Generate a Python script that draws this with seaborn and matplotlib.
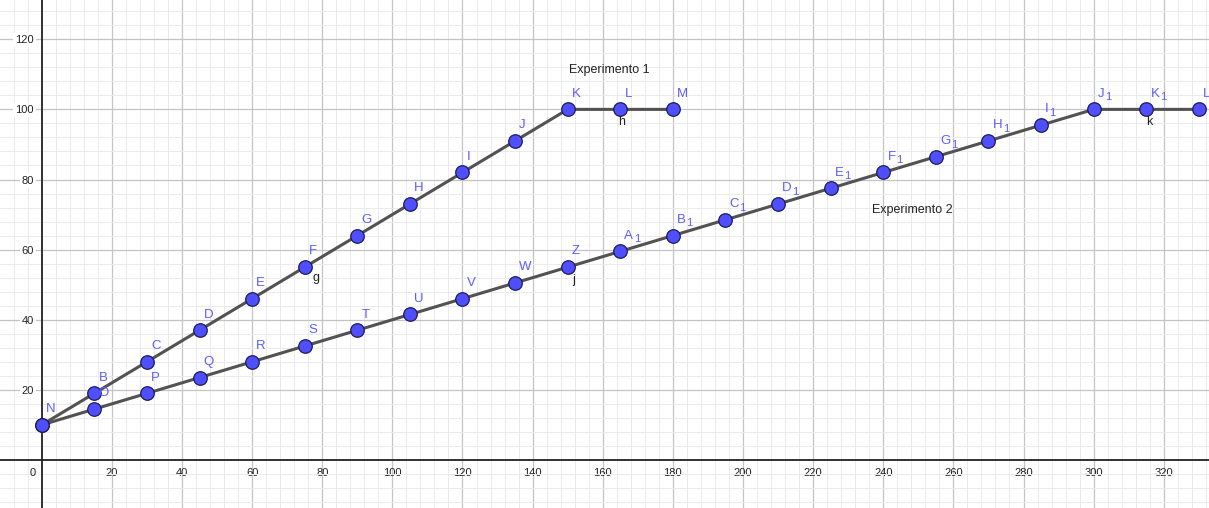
import numpy as np
import pandas as pd
import seaborn as sns
import matplotlib.pyplot as plt
from matplotlib.ticker import MultipleLocator

sns.set_style("white")
plt.rcParams['font.family'] = ['Liberation Sans', 'DejaVu Sans']

# Experimento 1
exp1_x = [0, 15, 30, 45, 60, 75, 90, 105, 120, 135, 150, 165, 180]
exp1_y = [10, 19, 28, 37, 46, 55, 64, 73, 82, 91, 100, 100, 100]
exp1_names = ['N', 'B', 'C', 'D', 'E', 'F', 'G', 'H', 'I', 'J', 'K', 'L', 'M']
exp1_subs = [''] * 13

# Experimento 2 (N is shared with Experimento 1)
exp2_x = [0, 15, 30, 45, 60, 75, 90, 105, 120, 135, 150, 165, 180, 195, 210,
          225, 240, 255, 270, 285, 300, 315, 330]
exp2_y = [10, 14.5, 19, 23.5, 28, 32.5, 37, 41.5, 46, 50.5, 55, 59.5, 64, 68.5,
          73, 77.5, 82, 86.5, 91, 95.5, 100, 100, 100]
exp2_names = ['', 'O', 'P', 'Q', 'R', 'S', 'T', 'U', 'V', 'W', 'Z',
              'A', 'B', 'C', 'D', 'E', 'F', 'G', 'H', 'I', 'J', 'K', 'L']
exp2_subs = [''] * 11 + ['1'] * 12

# segment labels
seg_names = ['g', 'h', 'j', 'k']
seg_x = [78.2, 165.5, 151.6, 315.8]
seg_y = [51.9, 96.4, 51.3, 96.4]

xticks = list(range(20, 340, 20))
yticks = list(range(20, 140, 20))

df = pd.concat([
    pd.DataFrame({'x': exp1_x, 'y': exp1_y, 'name': exp1_names, 'sub': exp1_subs,
                  'serie': 'Experimento 1'}),
    pd.DataFrame({'x': exp2_x, 'y': exp2_y, 'name': exp2_names, 'sub': exp2_subs,
                  'serie': 'Experimento 2'}),
], ignore_index=True)

fig = plt.figure(figsize=(12.09, 5.08), dpi=100)
ax = fig.add_axes([0, 0, 1, 1])

sns.lineplot(data=df, x='x', y='y', hue='serie', palette=['#525252', '#525252'],
             sort=False, legend=False, linewidth=2.2, ax=ax, zorder=2)
sns.scatterplot(data=df, x='x', y='y', color='#4f4fff', edgecolor='#1c1c55',
                s=95, linewidth=0.9, legend=False, ax=ax, zorder=3)

# point names (with GeoGebra-like subscripts)
lab_color = '#5c5cff'
for _, r in df.iterrows():
    if not r['name']:
        continue
    t = ax.annotate(r['name'], xy=(r['x'], r['y']), xytext=(3, 7),
                    textcoords='offset points', ha='left', va='bottom',
                    color=lab_color, fontsize=9.5, zorder=4)
    if r['sub']:
        ax.annotate(r['sub'], xy=(1, 0.2), xycoords=t, xytext=(0.3, 0),
                    textcoords='offset points', ha='left', va='center',
                    color=lab_color, fontsize=8, zorder=4)

for n, sx, sy in zip(seg_names, seg_x, seg_y):
    ax.text(sx, sy, n, ha='center', va='center', fontsize=9, color='#222222', zorder=4)

ax.text(150.5, 110.4, 'Experimento 1', fontsize=9, color='#222222', va='baseline')
ax.text(236.8, 70.4, 'Experimento 2', fontsize=9, color='#222222', va='baseline')

# axes through the origin, GeoGebra style
ax.set_xlim(-11.9, 332.9)
ax.set_ylim(-13.7, 131.2)
for s in ['top', 'right']:
    ax.spines[s].set_visible(False)
ax.spines['left'].set_position(('data', 0))
ax.spines['bottom'].set_position(('data', 0))
for s in ['left', 'bottom']:
    ax.spines[s].set_color('#222222')
    ax.spines[s].set_linewidth(1.3)
    ax.spines[s].set_zorder(1.5)

ax.set_xticks(xticks)
ax.set_yticks(yticks)
ax.xaxis.set_minor_locator(MultipleLocator(4))
ax.yaxis.set_minor_locator(MultipleLocator(4))
ax.tick_params(which='both', length=0)
ax.tick_params(axis='x', pad=5.5, labelsize=8, labelcolor='#222222')
ax.tick_params(axis='y', pad=5.5, labelsize=8, labelcolor='#222222')
for lab in ax.get_yticklabels():
    lab.set_bbox(dict(facecolor='white', edgecolor='none', pad=1.5))
ax.annotate('0', xy=(0, 0), xytext=(-4, -5.5), textcoords='offset points',
            ha='right', va='top', fontsize=8, color='#222222')

ax.set_axisbelow(True)
ax.grid(which='major', color='#c4c4c4', linewidth=0.9)
ax.grid(which='minor', color='#ebebeb', linewidth=0.7)
ax.set_xlabel('')
ax.set_ylabel('')

fig.savefig('out.png', dpi=100, facecolor='white')
